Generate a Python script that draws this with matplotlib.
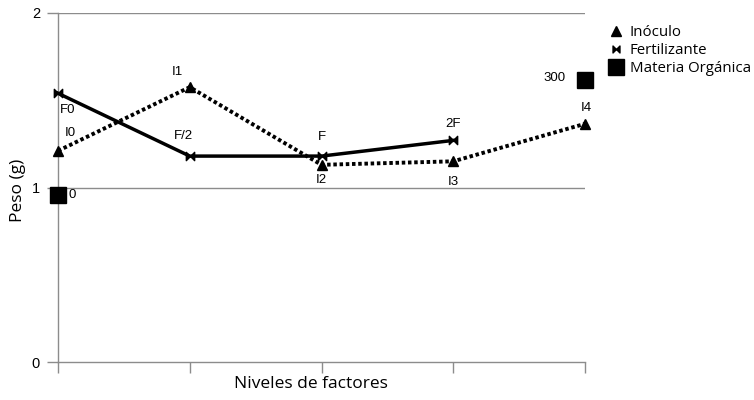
import matplotlib
matplotlib.use("Agg")
import matplotlib.pyplot as plt
from matplotlib.path import Path
from matplotlib.lines import Line2D

# Data
x_pos = [0, 1, 2, 3, 4]
inoculo_x = [0, 1, 2, 3, 4]
inoculo_y = [1.21, 1.575, 1.13, 1.15, 1.365]
inoculo_lbl = ["I0", "I1", "I2", "I3", "I4"]
fert_x = [0, 1, 2, 3]
fert_y = [1.54, 1.18, 1.18, 1.27]
fert_lbl = ["F0", "F/2", "F", "2F"]
mo_x = [0, 4]
mo_y = [0.955, 1.615]
mo_lbl = ["0", "300"]

inoc_off = [(12, 18), (-12, 15), (0, -15), (0, -21), (1, 16)]
fert_off = [(10, -17), (-6, 20), (0, 19), (0, 16)]
mo_off = [(14, 0), (-30, 2)]

bowtie = Path([(-1, -1), (-1, 1), (0, 0), (1, 1), (1, -1), (0, 0), (-1, -1)],
              [Path.MOVETO, Path.LINETO, Path.LINETO, Path.LINETO, Path.LINETO, Path.LINETO, Path.CLOSEPOLY])

fig = plt.figure(figsize=(7.54, 4.0), dpi=100)
ax = fig.add_axes([58/754, 38/400, (585-58)/754, (362-13)/400])

gray = "#8c8c8c"
ax.set_xlim(0, 4)
ax.set_ylim(0, 2)
ax.set_yticks([0, 1, 2])
ax.set_xticks(x_pos)
ax.set_xticklabels([])
for v in [1, 2]:
    ax.axhline(v, color=gray, lw=1, zorder=1)
for s in ["top", "right"]:
    ax.spines[s].set_visible(False)
for s in ["left", "bottom"]:
    ax.spines[s].set_color(gray)
    ax.spines[s].set_linewidth(1)
ax.tick_params(axis="both", direction="out", color=gray, length=8, width=1,
               labelsize=10.5, pad=5)
for t in ax.get_yticklabels():
    t.set_family("Liberation Sans")

ax.plot(inoculo_x, inoculo_y, color="black", lw=2.8, linestyle=(0, (0.9, 0.7)),
        dash_capstyle="butt", marker="^", markersize=6.5, zorder=3, clip_on=False)
ax.plot(fert_x, fert_y, color="black", lw=2.5, marker=bowtie, markersize=6,
        zorder=4, clip_on=False)
ax.plot(mo_x, mo_y, color="black", lw=0, marker="s", markersize=11, zorder=5, clip_on=False)

for xs, ys, ls, offs in [(inoculo_x, inoculo_y, inoculo_lbl, inoc_off),
                         (fert_x, fert_y, fert_lbl, fert_off),
                         (mo_x, mo_y, mo_lbl, mo_off)]:
    for xv, yv, lb, off in zip(xs, ys, ls, offs):
        ax.annotate(lb, (xv, yv), xytext=off, textcoords="offset pixels",
                    ha="center", va="center", fontsize=9.5, family="Liberation Sans")

fig.text(18/754, 1 - 190/400, "Peso (g)", rotation=90, ha="center", va="center",
         fontsize=12.5, family="Open Sans")
fig.text(311/754, 1 - 384/400, "Niveles de factores", ha="center", va="center",
         fontsize=12.5, family="Open Sans")

handles = [Line2D([], [], color="black", lw=0, marker="^", markersize=6.5),
           Line2D([], [], color="black", lw=0, marker=bowtie, markersize=5),
           Line2D([], [], color="black", lw=0, marker="s", markersize=11)]
fig.legend(handles, ["Inóculo", "Fertilizante", "Materia Orgánica"],
           loc="upper left", bbox_to_anchor=(607/754, 1 - 25/400), frameon=False,
           prop={"family": "Open Sans", "size": 10.8}, handlelength=1.2,
           handletextpad=0.3, labelspacing=0.2, borderaxespad=0, borderpad=0)

fig.savefig("out.png", dpi=100)
